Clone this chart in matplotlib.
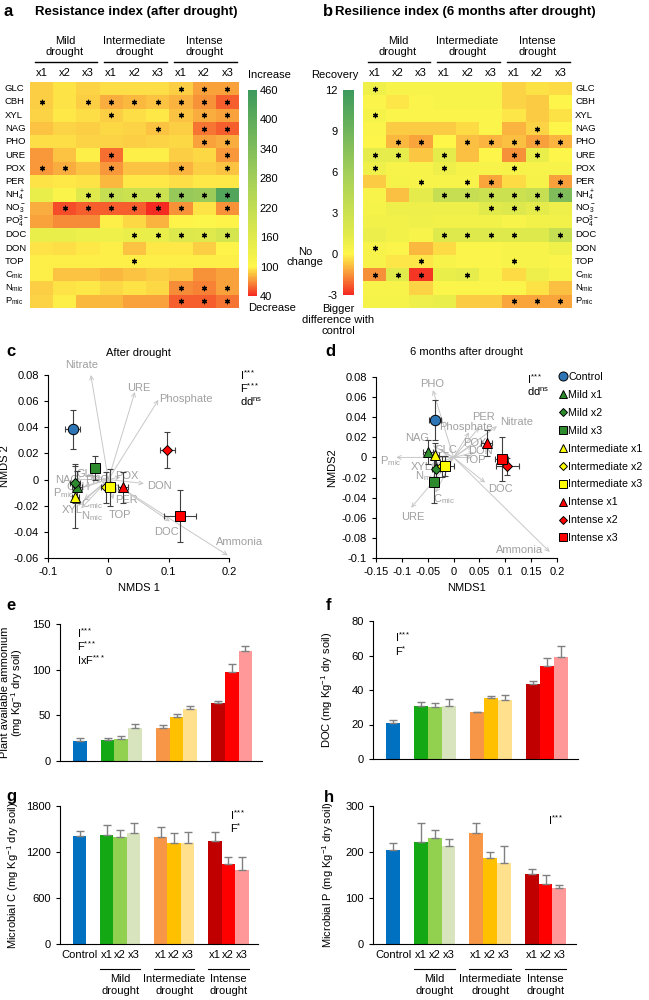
import numpy as np
import matplotlib
matplotlib.use('Agg')
import matplotlib.pyplot as plt
from matplotlib.colors import LinearSegmentedColormap, Normalize
from matplotlib.cm import ScalarMappable
from matplotlib.lines import Line2D
import matplotlib.transforms as mtransforms

plt.rcParams['font.family'] = ['Liberation Sans', 'DejaVu Sans']
plt.rcParams['mathtext.fontset'] = 'custom'
plt.rcParams['mathtext.rm'] = 'Liberation Sans'
plt.rcParams['mathtext.it'] = 'Liberation Sans'
plt.rcParams['mathtext.bf'] = 'Liberation Sans:bold'
plt.rcParams['mathtext.default'] = 'regular'
plt.rcParams['axes.unicode_minus'] = False

# ---------------- DATA ----------------
variables = ['GLC', 'CBH', 'XYL', 'NAG', 'PHO', 'URE', 'POX', 'PER', r'NH$_4^+$', r'NO$_3^-$',
             r'PO$_4^{3-}$', 'DOC', 'DON', 'TOP', r'C$_{mic}$', r'N$_{mic}$', r'P$_{mic}$']
levels = ['x1', 'x2', 'x3'] * 3
groups = ['Mild\ndrought', 'Intermediate\ndrought', 'Intense\ndrought']

resistance = np.array([
    [88, 95, 90, 93, 93, 93, 88, 75, 75],
    [88, 95, 88, 78, 82, 85, 80, 70, 55],
    [90, 97, 93, 88, 93, 97, 85, 78, 75],
    [85, 90, 88, 92, 90, 85, 88, 62, 55],
    [93, 93, 90, 90, 88, 90, 92, 75, 78],
    [72, 85, 98, 60, 98, 98, 88, 92, 72],
    [72, 78, 85, 72, 85, 85, 80, 88, 85],
    [95, 97, 95, 82, 97, 97, 93, 97, 97],
    [140, 110, 160, 210, 200, 200, 300, 290, 420],
    [78, 50, 55, 55, 55, 40, 70, 95, 70],
    [75, 68, 68, 98, 92, 80, 100, 104, 100],
    [140, 140, 135, 128, 140, 140, 165, 160, 180],
    [95, 93, 97, 98, 85, 97, 97, 88, 100],
    [98, 98, 98, 98, 98, 98, 98, 98, 98],
    [98, 85, 85, 82, 85, 88, 85, 70, 75],
    [88, 95, 97, 92, 95, 92, 68, 65, 75],
    [90, 98, 82, 82, 75, 75, 55, 55, 62],
])
resistance_sig = np.array([
    [0, 0, 0, 0, 0, 0, 1, 1, 1],
    [1, 0, 1, 1, 1, 1, 1, 1, 1],
    [0, 0, 0, 1, 0, 0, 1, 1, 1],
    [0, 0, 0, 0, 0, 1, 0, 1, 1],
    [0, 0, 0, 0, 0, 0, 0, 1, 1],
    [0, 0, 0, 1, 0, 0, 0, 0, 1],
    [1, 1, 0, 1, 0, 0, 1, 0, 1],
    [0, 0, 0, 0, 0, 0, 0, 0, 0],
    [0, 0, 1, 1, 1, 1, 1, 1, 1],
    [0, 1, 1, 1, 1, 1, 1, 0, 1],
    [0, 0, 0, 0, 0, 0, 0, 0, 0],
    [0, 0, 0, 0, 1, 1, 1, 1, 1],
    [0, 0, 0, 0, 0, 0, 0, 0, 0],
    [0, 0, 0, 0, 1, 0, 0, 0, 0],
    [0, 0, 0, 0, 0, 0, 0, 0, 0],
    [0, 0, 0, 0, 0, 0, 1, 1, 1],
    [0, 0, 0, 0, 0, 0, 1, 1, 1],
])
resilience = np.array([
    [0.7, 0.3, 0.3, 0.3, 0.3, 0.3, -0.5, -0.3, -0.4],
    [0.2, -0.2, 0.2, 0.3, 0.3, 0.3, -0.5, -0.6, 0.1],
    [0.5, 0.2, 0.2, 0.2, 0.2, 0.2, -0.2, -0.6, -0.3],
    [0.2, -0.6, -0.6, -0.6, -0.4, 0.2, -1.0, -0.5, 0.1],
    [0.1, -0.9, -1.2, 0.0, -0.8, -1.0, -0.8, -1.3, -1.0],
    [1.2, 1.2, -0.7, 1.3, -0.8, 0.1, -1.5, 1.0, 0.1],
    [0.7, 0.3, 0.3, 0.8, 0.4, 0.3, 0.4, 0.3, 0.3],
    [-0.6, 0.5, 0.3, 0.3, 0.3, -1.2, -0.4, 0.4, -1.3],
    [0.3, -0.8, 1.3, 3.5, 3.5, 3.0, 3.0, 3.5, 8.0],
    [0.5, 0.8, 0.8, 0.8, 0.8, 1.5, 1.8, 1.3, 0.8],
    [0.6, 0.6, 0.7, 0.6, 0.6, 0.6, 0.3, 0.6, 0.6],
    [0.9, 0.6, 0.3, 1.6, 1.6, 1.6, 1.6, 1.6, 3.5],
    [0.3, 0.2, -0.9, -0.4, 0.2, 0.2, 0.3, 0.3, 0.7],
    [0.3, -0.2, -0.2, 0.3, 0.2, 0.2, 0.3, 0.3, 0.2],
    [-1.5, 1.5, -2.8, 1.0, 1.2, 0.3, -0.4, 0.8, 0.3],
    [0.3, 0.3, -0.5, 0.2, 0.2, 0.2, 0.2, -0.3, -0.8],
    [0.5, 0.5, 0.8, 1.0, -0.6, -0.6, -1.2, -1.2, -1.2],
])
resilience_sig = np.array([
    [1, 0, 0, 0, 0, 0, 0, 0, 0],
    [0, 0, 0, 0, 0, 0, 0, 0, 0],
    [1, 0, 0, 0, 0, 0, 0, 0, 0],
    [0, 0, 0, 0, 0, 0, 0, 1, 0],
    [0, 1, 1, 0, 1, 1, 1, 1, 1],
    [1, 1, 0, 1, 0, 0, 1, 1, 0],
    [1, 0, 0, 1, 0, 0, 1, 0, 0],
    [0, 0, 1, 0, 1, 1, 0, 0, 1],
    [0, 0, 0, 1, 1, 1, 1, 1, 1],
    [0, 0, 0, 0, 0, 1, 1, 1, 0],
    [0, 0, 0, 0, 0, 0, 0, 0, 0],
    [0, 0, 0, 1, 1, 1, 1, 0, 1],
    [1, 0, 0, 0, 0, 0, 0, 0, 0],
    [0, 0, 1, 0, 0, 0, 1, 0, 0],
    [1, 1, 1, 0, 1, 0, 0, 0, 0],
    [0, 0, 0, 0, 0, 0, 0, 0, 0],
    [0, 0, 0, 0, 0, 0, 1, 1, 1],
])
resist_ticks = [40, 100, 160, 220, 280, 340, 400, 460]
resil_ticks = [-3, 0, 3, 6, 9, 12]

treatments = ['Control', 'Mild x1', 'Mild x2', 'Mild x3', 'Intermediate x1', 'Intermediate x2',
              'Intermediate x3', 'Intense x1', 'Intense x2', 'Intense x3']
treat_markers = ['o', '^', 'D', 's', '^', 'D', 's', '^', 'D', 's']
treat_colors = ['#2e75b6', '#2d8a2d', '#2d8a2d', '#2d8a2d', '#ffff00', '#ffff00', '#ffff00',
                '#ff0000', '#ff0000', '#ff0000']

c_x = [-0.059, -0.052, -0.055, -0.022, -0.055, -0.004, 0.003, 0.024, 0.098, 0.119]
c_y = [0.0385, -0.0057, -0.003, 0.009, -0.0133, -0.006, -0.006, -0.006, 0.0226, -0.028]
c_xerr = [0.012, 0.008, 0.008, 0.008, 0.006, 0.008, 0.008, 0.008, 0.012, 0.026]
c_yerr = [0.015, 0.012, 0.015, 0.009, 0.024, 0.012, 0.014, 0.012, 0.014, 0.020]

c_vec_names = ['Nitrate', 'URE', 'Phosphate', 'POX', 'DON', 'PER', 'TOP', 'DOC', 'Ammonia', 'NAG',
               'GLC', 'PHO', 'CBH', r'P$_{mic}$', 'XYL', r'C$_{mic}$', r'N$_{mic}$']
c_vec_x = [-0.029, 0.044, 0.083, 0.02, 0.059, 0.015, 0.008, 0.102, 0.198, -0.055,
           -0.035, -0.025, -0.04, -0.055, -0.05, -0.04, -0.045]
c_vec_y = [0.080, 0.067, 0.061, 0.002, -0.003, -0.010, -0.015, -0.032, -0.058, 0.0,
           0.004, 0.0, -0.005, -0.008, -0.02, -0.015, -0.022]
c_lab_x = [-0.072, 0.031, 0.084, 0.011, 0.064, 0.011, 0.0, 0.076, 0.178, -0.088,
           -0.052, -0.039, -0.069, -0.092, -0.077, -0.045, -0.045]
c_lab_y = [0.088, 0.070, 0.062, 0.003, -0.005, -0.016, -0.027, -0.040, -0.048, 0.0,
           0.004, 0.0, -0.006, -0.010, -0.023, -0.019, -0.028]

d_x = [-0.036, -0.049, -0.034, -0.038, -0.036, -0.022, -0.017, 0.064, 0.104, 0.093]
d_y = [0.037, 0.0055, -0.0115, -0.024, 0.002, -0.009, -0.0085, 0.014, -0.009, -0.0015]
d_xerr = [0.012, 0.010, 0.008, 0.006, 0.008, 0.010, 0.018, 0.010, 0.022, 0.012]
d_yerr = [0.020, 0.012, 0.010, 0.021, 0.012, 0.010, 0.010, 0.013, 0.008, 0.022]

d_vec_names = ['PHO', 'Nitrate', 'PER', 'Phosphate', 'NAG', 'POX', 'DON', 'TOP', 'GLC',
               r'P$_{mic}$', 'XYL', r'N$_{mic}$', r'C$_{mic}$', 'URE', 'DOC', 'Ammonia']
d_vec_x = [-0.040, 0.084, 0.05, 0.03, -0.04, 0.035, 0.04, 0.035, -0.02,
           -0.111, -0.045, -0.04, -0.035, -0.082, 0.061, 0.186]
d_vec_y = [0.067, 0.031, 0.03, 0.025, 0.012, 0.012, 0.005, 0.0, 0.005,
           0.0, -0.008, -0.015, -0.035, -0.050, -0.025, -0.094]
d_lab_x = [-0.065, 0.090, 0.036, -0.028, -0.094, 0.018, 0.028, 0.020, -0.036,
           -0.142, -0.082, -0.075, -0.040, -0.102, 0.067, 0.082]
d_lab_y = [0.073, 0.035, 0.040, 0.030, 0.019, 0.014, 0.0065, -0.0025, 0.007,
           -0.0035, -0.010, -0.019, -0.041, -0.059, -0.031, -0.092]

c_xticks = [-0.1, 0, 0.1, 0.2]
c_xticklabels = ['-0.1', '0', '0.1', '0.2']
c_yticks = [-0.06, -0.04, -0.02, 0, 0.02, 0.04, 0.06, 0.08]
c_yticklabels = ['-0.06', '-0.04', '-0.02', '0', '0.02', '0.04', '0.06', '0.08']
d_xticks = [-0.15, -0.1, -0.05, 0, 0.05, 0.1, 0.15, 0.2]
d_xticklabels = ['-0.15', '-0.1', '-0.05', '0', '0.05', '0.1', '0.15', '0.2']
d_yticks = [-0.1, -0.08, -0.06, -0.04, -0.02, 0, 0.02, 0.04, 0.06, 0.08]
d_yticklabels = ['-0.1', '-0.08', '-0.06', '-0.04', '-0.02', '0', '0.02', '0.04', '0.06', '0.08']

bar_labels = ['Control', 'x1', 'x2', 'x3', 'x1', 'x2', 'x3', 'x1', 'x2', 'x3']
bar_groups = ['Mild\ndrought', 'Intermediate\ndrought', 'Intense\ndrought']
bar_colors = ['#0070c0', '#14a814', '#92d050', '#d7e4bd', '#f79646', '#ffc000', '#ffe08c',
              '#c00000', '#ff0000', '#ff9999']

ammonium = [22, 23, 24, 36, 36, 48, 57, 63, 97, 120]
ammonium_err = [3, 2, 3, 5, 3, 3, 3, 3, 9, 6]
doc = [21, 31, 30, 30.5, 27, 35.5, 34, 43.5, 54, 59]
doc_err = [1.5, 2.2, 2.7, 4, 0.3, 1, 3.2, 1.5, 4.6, 6.5]
mic_c = [1410, 1420, 1400, 1450, 1400, 1320, 1320, 1350, 1050, 960]
mic_c_err = [60, 130, 90, 130, 120, 130, 140, 110, 90, 180]
mic_p = [205, 222, 230, 212, 242, 188, 177, 152, 130, 122]
mic_p_err = [15, 42, 18, 16, 22, 11, 36, 11, 21, 7]

# ---------------- FIGURE ----------------
W, H = 649, 1000
fig = plt.figure(figsize=(6.49, 10), dpi=100)


def rect(x0, y0, x1, y1):
    return [x0 / W, 1 - y1 / H, (x1 - x0) / W, (y1 - y0) / H]


def ftext(x, y, s, **kw):
    fig.text(x / W, 1 - y / H, s, **kw)


def stat(base, stars):
    return base + r'$^{' + r'\!'.join(stars) + r'}$'


heat_colors = ['#f52a22', '#f8943a', '#fff64a', '#e0ea4c', '#a3cf5a', '#3c9a5c']


def make_cmap(nodes):
    lo, hi = nodes[0], nodes[-1]
    pos = [(n - lo) / (hi - lo) for n in nodes]
    return LinearSegmentedColormap.from_list('c', list(zip(pos, heat_colors)))


cmap_a = make_cmap([40, 70, 100, 160, 280, 460])
norm_a = Normalize(40, 460)
cmap_b = make_cmap([-3, -1.5, 0, 1.5, 6, 12])
norm_b = Normalize(-3, 12)


def heatmap(ax, data, sig, cmap, norm, labels_left):
    ax.imshow(data, cmap=cmap, norm=norm, aspect='auto', interpolation='nearest')
    ys, xs = np.nonzero(sig)
    ax.scatter(xs, ys, marker=(6, 2, 0), s=10, c='k', linewidths=0.9)
    ax.set_xticks([])
    ax.set_yticks([])
    for s in ax.spines.values():
        s.set_visible(False)
    tr = mtransforms.blended_transform_factory(ax.transData, ax.transAxes)
    for j, lab in enumerate(levels):
        ax.text(j, 1.04, lab, transform=tr, ha='center', va='center', fontsize=8)
    for g, glab in enumerate(groups):
        ax.plot([g * 3 - 0.3, g * 3 + 2.4], [1.088, 1.088], transform=tr, color='k', lw=1.0,
                clip_on=False)
        ax.text(g * 3 + 1, 1.157, glab, transform=tr, ha='center', va='center', fontsize=8,
                linespacing=1.05)
    tr2 = mtransforms.blended_transform_factory(ax.transAxes, ax.transData)
    for i, lab in enumerate(variables):
        if labels_left:
            ax.text(-0.12, i, lab, transform=tr2, ha='left', va='center', fontsize=6.8)
        else:
            ax.text(1.015, i, lab, transform=tr2, ha='left', va='center', fontsize=6.8)


# Panel a
ax_a = fig.add_axes(rect(30, 82, 239, 308))
heatmap(ax_a, resistance, resistance_sig, cmap_a, norm_a, True)
cax_a = fig.add_axes(rect(248, 90, 257, 296))
cb_a = fig.colorbar(ScalarMappable(norm=norm_a, cmap=cmap_a), cax=cax_a, ticks=resist_ticks)
cb_a.outline.set_visible(False)
cax_a.tick_params(length=0, labelsize=8, pad=2)

# Panel b
ax_b = fig.add_axes(rect(363, 82, 572, 308))
heatmap(ax_b, resilience, resilience_sig, cmap_b, norm_b, False)
cax_b = fig.add_axes(rect(343, 90, 354, 295))
cb_b = fig.colorbar(ScalarMappable(norm=norm_b, cmap=cmap_b), cax=cax_b, ticks=resil_ticks)
cb_b.outline.set_visible(False)
cax_b.yaxis.set_ticks_position('left')
cax_b.tick_params(length=0, labelsize=8, pad=4)

ftext(4, 12, 'a', fontsize=12, fontweight='bold', va='center')
ftext(35, 12, 'Resistance index (after drought)', fontsize=9.5, fontweight='bold', va='center')
ftext(323, 12, 'b', fontsize=12, fontweight='bold', va='center')
ftext(335, 12, 'Resilience index (6 months after drought)', fontsize=9.5, fontweight='bold',
      va='center')
ftext(248, 75, 'Increase', fontsize=8, va='center')
ftext(248, 308, 'Decrease', fontsize=8, va='center')
ftext(305, 257, 'No\nchange', fontsize=8, va='center', ha='center', linespacing=1.1)
ftext(335, 75, 'Recovery', fontsize=8, va='center', ha='center')
ftext(338, 320, 'Bigger\ndifference with\ncontrol', fontsize=8, va='center', ha='center',
      linespacing=1.1)


def scatter_panel(ax, xs, ys, xerr, yerr, vnames, vx, vy, lx, ly):
    for n, ex, ey, tx, ty in zip(vnames, vx, vy, lx, ly):
        ax.annotate('', xy=(ex, ey), xytext=(0, 0),
                    arrowprops=dict(arrowstyle='->', color='#c8c8c8', lw=0.7,
                                    shrinkA=0, shrinkB=0, mutation_scale=7))
        ax.text(tx, ty, n, color='#a0a0a0', fontsize=8, ha='left', va='center')
    for i in range(len(xs)):
        ax.errorbar(xs[i], ys[i], xerr=xerr[i], yerr=yerr[i], fmt='none', ecolor='#404040',
                    elinewidth=0.8, capsize=2.5, capthick=0.8, zorder=3)
    for i in range(len(xs)):
        ms = 7.5 if treat_markers[i] == 'o' else (5 if treat_markers[i] == 'D' else 6.5)
        ax.plot(xs[i], ys[i], marker=treat_markers[i], color=treat_colors[i], mec='k', mew=0.7,
                ms=ms, ls='none', zorder=4)
    for s in ['top', 'right']:
        ax.spines[s].set_visible(False)
    ax.tick_params(labelsize=8, length=3, width=0.8)


# Panel c
ax_c = fig.add_axes(rect(48, 375, 229, 558))
scatter_panel(ax_c, c_x, c_y, c_xerr, c_yerr, c_vec_names, c_vec_x, c_vec_y, c_lab_x, c_lab_y)
ax_c.set_xlim(-0.1, 0.2)
ax_c.set_ylim(-0.06, 0.08)
ax_c.set_xticks(c_xticks, c_xticklabels)
ax_c.set_yticks(c_yticks, c_yticklabels)
ax_c.set_xlabel('NMDS 1', fontsize=8, labelpad=4)
ax_c.set_ylabel('NMDS 2', fontsize=8, labelpad=3)
ax_c.set_title('After drought', fontsize=8, pad=14)
ftext(240, 375, stat('I', '***'), fontsize=8, va='center')
ftext(240, 388, stat('F', '***'), fontsize=8, va='center')
ftext(240, 402, r'dd$^{ns}$', fontsize=8, va='center')
ftext(6, 352, 'c', fontsize=12, fontweight='bold', va='center')

# Panel d
ax_d = fig.add_axes(rect(376, 377, 557, 558))
scatter_panel(ax_d, d_x, d_y, d_xerr, d_yerr, d_vec_names, d_vec_x, d_vec_y, d_lab_x, d_lab_y)
ax_d.set_xlim(-0.15, 0.2)
ax_d.set_ylim(-0.1, 0.08)
ax_d.set_xticks(d_xticks, d_xticklabels)
ax_d.set_yticks(d_yticks, d_yticklabels)
ax_d.set_xlabel('NMDS1', fontsize=8, labelpad=4)
ax_d.set_ylabel('NMDS2', fontsize=8, labelpad=3)
ax_d.set_title('6 months after drought', fontsize=8, pad=16)
ftext(527, 379, stat('I', '***'), fontsize=8, va='center')
ftext(527, 392, r'dd$^{ns}$', fontsize=8, va='center')
ftext(325, 352, 'd', fontsize=12, fontweight='bold', va='center')

handles = [Line2D([], [], marker=m, color=c, mec='k', mew=0.7, ls='none',
                  ms=(6.5 if m == 'o' else (4.5 if m == 'D' else 6)))
           for m, c in zip(treat_markers, treat_colors)]
fig.legend(handles, treatments, loc='upper left', bbox_to_anchor=(560 / W, 1 - 372 / H),
           frameon=False, fontsize=7.7, handlelength=0.6, handletextpad=0.15,
           labelspacing=0.74, borderpad=0, borderaxespad=0)

# Bar panels
bar_pos = np.array([0, 2, 3, 4, 6, 7, 8, 10, 11, 12])


def bar_panel(ax, means, errs, ylim, yticks, ylabel, label_x, show_x):
    ax.bar(bar_pos, means, width=1.0, color=bar_colors, edgecolor='none')
    ax.errorbar(bar_pos, means, yerr=[np.zeros(len(errs)), errs], fmt='none', ecolor='#808080',
                elinewidth=1.0, capsize=3, capthick=1.0)
    ax.set_xlim(-1.45, 13.2)
    ax.set_ylim(*ylim)
    ax.set_yticks(yticks)
    for s in ['top', 'right']:
        ax.spines[s].set_visible(False)
    ax.tick_params(axis='y', labelsize=8, length=3, width=0.8)
    ax.set_ylabel(ylabel, fontsize=8, linespacing=0.88)
    ax.yaxis.set_label_coords(label_x, 0.5)
    if show_x:
        ax.set_xticks(bar_pos, bar_labels)
        ax.tick_params(axis='x', labelsize=8, length=0, pad=4)
        tr = mtransforms.blended_transform_factory(ax.transData, ax.transAxes)
        for g, glab in enumerate(bar_groups):
            c = 3 + 4 * g
            ax.plot([c - 1.5, c + 1.5], [-0.18, -0.18], transform=tr, color='k', lw=0.8,
                    clip_on=False)
            ax.text(c, -0.215, glab, transform=tr, ha='center', va='top', fontsize=8,
                    linespacing=1.3)
    else:
        ax.set_xticks([])


ax_e = fig.add_axes(rect(60, 624, 262, 761))
bar_panel(ax_e, ammonium, ammonium_err, (0, 150), [0, 50, 100, 150],
          'Plant available ammonium\n(mg Kg$^{-1}$ dry soil)', -0.175, False)
ax_e.text(0.085, 0.935, stat('I', '***'), transform=ax_e.transAxes, fontsize=8, va='center')
ax_e.text(0.085, 0.84, stat('F', '***'), transform=ax_e.transAxes, fontsize=8, va='center')
ax_e.text(0.085, 0.74, stat('IxF', '***'), transform=ax_e.transAxes, fontsize=8, va='center')
ftext(6, 606, 'e', fontsize=12, fontweight='bold', va='center')

ax_f = fig.add_axes(rect(373, 621, 578, 759))
bar_panel(ax_f, doc, doc_err, (0, 80), [0, 20, 40, 60, 80], 'DOC (mg Kg$^{-1}$ dry soil)',
          -0.185, False)
ax_f.text(0.107, 0.884, stat('I', '***'), transform=ax_f.transAxes, fontsize=8, va='center')
ax_f.text(0.107, 0.785, stat('F', '*'), transform=ax_f.transAxes, fontsize=8, va='center')
ftext(326, 606, 'f', fontsize=12, fontweight='bold', va='center')

ax_g = fig.add_axes(rect(60, 806, 258, 944))
bar_panel(ax_g, mic_c, mic_c_err, (0, 1800), [0, 600, 1200, 1800],
          'Microbial C (mg Kg$^{-1}$ dry soil)', -0.195, True)
ax_g.text(0.86, 0.935, stat('I', '***'), transform=ax_g.transAxes, fontsize=8, va='center')
ax_g.text(0.86, 0.84, stat('F', '*'), transform=ax_g.transAxes, fontsize=8, va='center')
ftext(6, 797, 'g', fontsize=12, fontweight='bold', va='center')

ax_h = fig.add_axes(rect(373, 806, 576, 944))
bar_panel(ax_h, mic_p, mic_p_err, (0, 300), [0, 100, 200, 300],
          'Microbial P (mg Kg$^{-1}$ dry soil)', -0.182, True)
ax_h.text(0.86, 0.9, stat('I', '***'), transform=ax_h.transAxes, fontsize=8, va='center')
ftext(324, 797, 'h', fontsize=12, fontweight='bold', va='center')

fig.savefig('out.png', dpi=100)
